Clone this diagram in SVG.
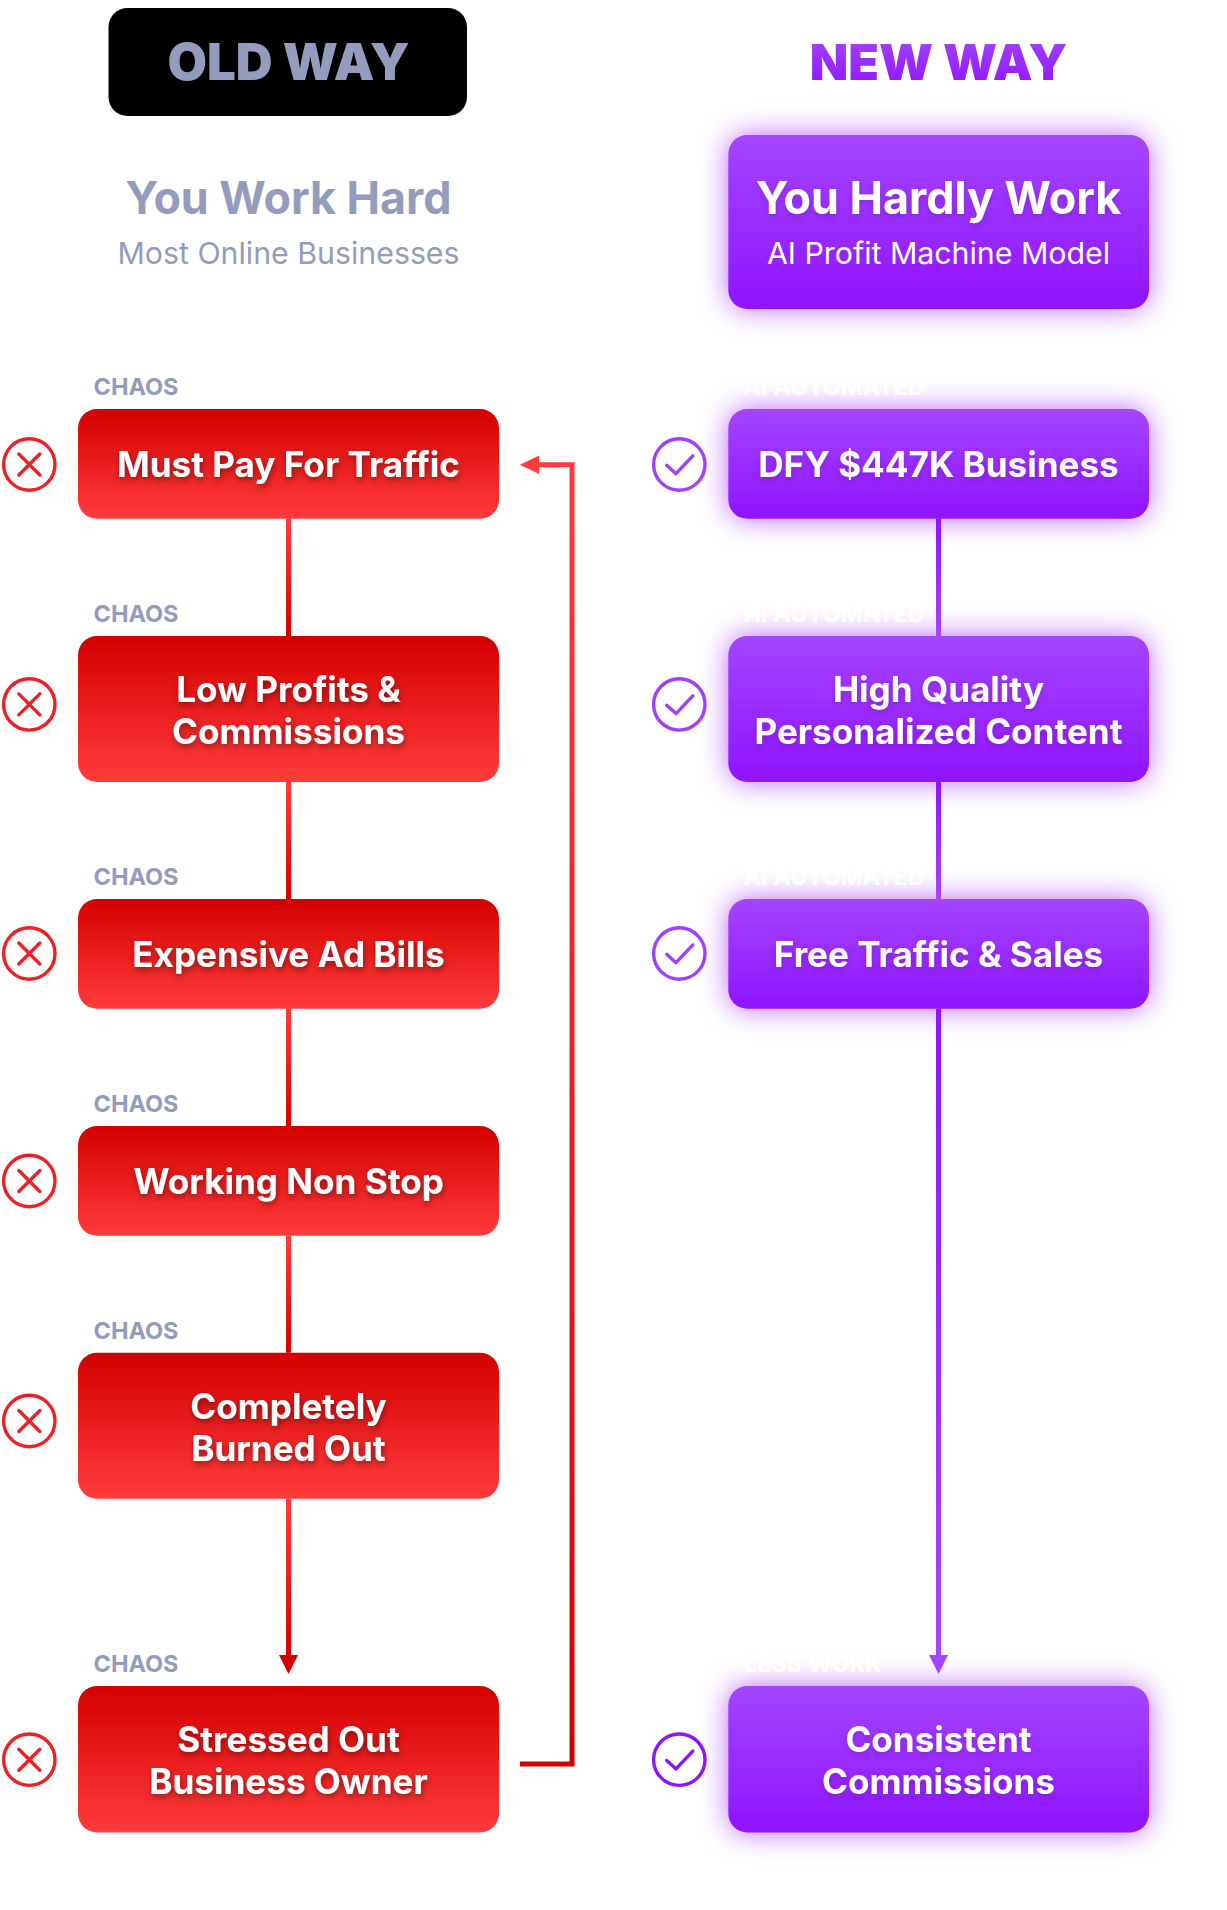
<svg xmlns="http://www.w3.org/2000/svg" width="1227" height="1910" viewBox="0 0 1227 1910">
<style>
text{font-family:Inter,"Noto Sans","Liberation Sans",sans-serif;text-anchor:middle}
.lb{font-size:35.1px;font-weight:700;fill:#fff}
.r .lb{filter:url(#ts)}
.p .lb{filter:url(#tp)}
.nr{fill:url(#gr)}
.np{fill:url(#gp);filter:url(#glow)}
.tag{font-size:23.500px;font-weight:700;text-anchor:start}
.ch{fill:#949cbd}
.wt{fill:#fff}
.ic{fill:none;stroke-width:3.4;stroke-linecap:round;stroke-linejoin:round}
.icr{stroke:#ed2024}
.icp{stroke:#a040ff}
.icd{stroke:#9013fe}
.h{font-size:44.800px;font-weight:700}
.s{font-size:30.300px;font-weight:400}
.way{font-size:50px;font-weight:900}
</style>
<defs>
<linearGradient id="gr" x1="0" y1="0" x2="0" y2="1"><stop offset="0" stop-color="#d40000"/><stop offset="1" stop-color="#ff3b3b"/></linearGradient>
<linearGradient id="gp" x1="0" y1="0" x2="0" y2="1"><stop offset="0" stop-color="#a445ff"/><stop offset="1" stop-color="#9013fe"/></linearGradient>
<linearGradient id="cr" x1="0" y1="0" x2="0" y2="1"><stop offset="0" stop-color="#ff3b3b"/><stop offset="1" stop-color="#d40000"/></linearGradient>
<linearGradient id="cb" gradientUnits="userSpaceOnUse" x1="0" y1="465" x2="0" y2="1766"><stop offset="0" stop-color="#ff3b3b"/><stop offset="1" stop-color="#d40000"/></linearGradient>
<linearGradient id="cp" x1="0" y1="0" x2="0" y2="1"><stop offset="0" stop-color="#9013fe"/><stop offset="1" stop-color="#a445ff"/></linearGradient>
<filter id="glow" x="-20%" y="-60%" width="140%" height="220%"><feDropShadow dx="0" dy="0" stdDeviation="14" flood-color="#9013fe" flood-opacity="0.6"/></filter>
<filter id="ts" x="-10%" y="-30%" width="120%" height="170%"><feDropShadow dx="1" dy="3" stdDeviation="3" flood-color="#000" flood-opacity="0.4"/></filter>
<filter id="tp" x="-10%" y="-30%" width="120%" height="170%"><feDropShadow dx="0" dy="3" stdDeviation="3" flood-color="#000" flood-opacity="0.15"/></filter>
</defs>
<rect width="1227" height="1910" fill="#fff"/>
<g id="old-way"><rect x="108.500" y="8" width="358.500" height="108" rx="19" fill="#000"/><text class="way ch" x="288.500" y="80" style="font-size:51px">OLD WAY</text></g>
<g id="new-way"><text class="way" fill="url(#gp)" x="938.500" y="80">NEW WAY</text></g>
<g id="you-work-hard"><text class="h ch" x="288.500" y="214">You Work Hard</text><text class="s ch" x="288.500" y="264">Most Online Businesses</text></g>
<g id="you-hardly-work" class="p"><rect class="np" x="728.300" y="135" width="420.700" height="174" rx="19"/><text class="h wt" x="938.500" y="214" style="filter:url(#tp)">You Hardly Work</text><text class="s wt" x="938.500" y="264">AI Profit Machine Model</text></g>

<g id="old-1" class="r"><rect class="nr" x="78" y="409" width="421" height="109.700" rx="19"/><text class="tag ch" x="93.500" y="395">CHAOS</text><text class="lb" x="288.500" y="477">Must Pay For Traffic</text><circle class="ic icr" cx="29.300" cy="464.500" r="25.700"/><path class="ic icr" d="M18.800 454l21 21m0-21l-21 21"/></g>
<g id="old-2" class="r"><rect class="nr" x="78" y="636" width="421" height="146" rx="19"/><text class="tag ch" x="93.500" y="622">CHAOS</text><text class="lb" x="288.500" y="701.700">Low Profits &amp;</text><text class="lb" x="288.500" y="743.500">Commissions</text><circle class="ic icr" cx="29.300" cy="704.400" r="25.700"/><path class="ic icr" d="M18.800 693.900l21 21m0-21l-21 21"/></g>
<g id="old-3" class="r"><rect class="nr" x="78" y="899" width="421" height="109.700" rx="19"/><text class="tag ch" x="93.500" y="885">CHAOS</text><text class="lb" x="288.500" y="967">Expensive Ad Bills</text><circle class="ic icr" cx="29.300" cy="953.500" r="25.700"/><path class="ic icr" d="M18.800 943l21 21m0-21l-21 21"/></g>
<g id="old-4" class="r"><rect class="nr" x="78" y="1126" width="421" height="109.700" rx="19"/><text class="tag ch" x="93.500" y="1112">CHAOS</text><text class="lb" x="288.500" y="1194">Working Non Stop</text><circle class="ic icr" cx="29.300" cy="1181" r="25.700"/><path class="ic icr" d="M18.800 1170.500l21 21m0-21l-21 21"/></g>
<g id="old-5" class="r"><rect class="nr" x="78" y="1352.700" width="421" height="146" rx="19"/><text class="tag ch" x="93.500" y="1339">CHAOS</text><text class="lb" x="288.500" y="1418.700">Completely</text><text class="lb" x="288.500" y="1460.500">Burned Out</text><circle class="ic icr" cx="29.300" cy="1421" r="25.700"/><path class="ic icr" d="M18.800 1410.500l21 21m0-21l-21 21"/></g>
<g id="old-6" class="r"><rect class="nr" x="78" y="1686" width="421" height="146.500" rx="19"/><text class="tag ch" x="93.500" y="1672">CHAOS</text><text class="lb" x="288.500" y="1751.500">Stressed Out</text><text class="lb" x="288.500" y="1793.500">Business Owner</text><circle class="ic icr" cx="29.300" cy="1759.700" r="25.700"/><path class="ic icr" d="M18.800 1749.200l21 21m0-21l-21 21"/></g>

<g id="new-1" class="p"><rect class="np" x="728.300" y="409" width="420.700" height="109.700" rx="19"/><text class="tag wt" x="743.500" y="395">AI AUTOMATED</text><text class="lb" x="938.500" y="477">DFY $447K Business</text><circle class="ic icp" cx="679.300" cy="464.500" r="25.700"/><path class="ic icp" d="M666.700 465.300l9.300 8.400 16.800-17.800"/></g>
<g id="new-2" class="p"><rect class="np" x="728.300" y="636" width="420.700" height="146" rx="19"/><text class="tag wt" x="743.500" y="622">AI AUTOMATED</text><text class="lb" x="938.500" y="701.700">High Quality</text><text class="lb" x="938.500" y="743.500">Personalized Content</text><circle class="ic icp" cx="679.300" cy="704.400" r="25.700"/><path class="ic icp" d="M666.700 705.200l9.300 8.400 16.800-17.800"/></g>
<g id="new-3" class="p"><rect class="np" x="728.300" y="899" width="420.700" height="109.700" rx="19"/><text class="tag wt" x="743.500" y="885">AI AUTOMATED</text><text class="lb" x="938.500" y="967">Free Traffic &amp; Sales</text><circle class="ic icp" cx="679.300" cy="953.500" r="25.700"/><path class="ic icp" d="M666.700 954.300l9.300 8.400 16.800-17.800"/></g>
<g id="new-4" class="p"><rect class="np" x="728.300" y="1686" width="420.700" height="146.500" rx="19"/><text class="tag wt" x="743.500" y="1672">LESS WORK</text><text class="lb" x="938.500" y="1751.500">Consistent</text><text class="lb" x="938.500" y="1793.500">Commissions</text><circle class="ic icd" cx="679.300" cy="1759.700" r="25.700"/><path class="ic icd" d="M666.700 1760.500l9.300 8.400 16.800-17.800"/></g>

<g id="connectors">
<rect x="286" y="518.700" width="5" height="117.300" fill="url(#cr)"/>
<rect x="286" y="782" width="5" height="117" fill="url(#cr)"/>
<rect x="286" y="1008.700" width="5" height="117.300" fill="url(#cr)"/>
<rect x="286" y="1235.700" width="5" height="117" fill="url(#cr)"/>
<rect x="286" y="1498.700" width="5" height="158.300" fill="url(#cr)"/>
<polygon points="279,1655 298,1655 288.500,1674" fill="#d40000"/>
<path d="M520 1764H572V464.700H535" fill="none" stroke="url(#cb)" stroke-width="5"/>
<polygon points="520,464.700 539,455.500 539,474" fill="#ff3b3b"/>
<rect x="936" y="518.700" width="5" height="117.300" fill="url(#cp)"/>
<rect x="936" y="782" width="5" height="117" fill="url(#cp)"/>
<rect x="936" y="1008.700" width="5" height="648.300" fill="url(#cp)"/>
<polygon points="929,1655 948,1655 938.500,1674" fill="#a445ff"/>
</g>
</svg>
